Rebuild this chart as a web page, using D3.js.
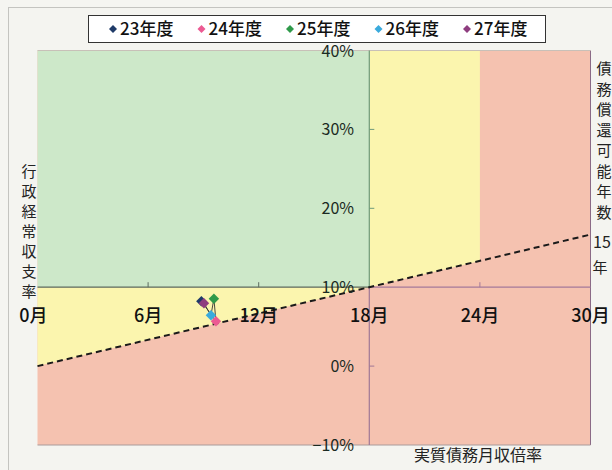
<!DOCTYPE html>
<html><head><meta charset="utf-8">
<script src="https://cdn.jsdelivr.net/npm/d3@7"></script>
<style>
html,body{margin:0;padding:0;background:#f5f5f1;}
svg{display:block;}
</style></head>
<body>
<svg id="chart" width="612" height="470"></svg>
<script>
// ---- data ----
const years = ["23年度","24年度","25年度","26年度","27年度"];
const monthRatio = [8.89, 9.68, 9.57, 9.41, 9.03];   // 実質債務月収倍率 (月)
const balanceRate = [8.22, 5.69, 8.54, 6.45, 7.97];  // 行政経常収支率 (%)
const seriesColors = ["#1f3a68","#ec5a93","#2f9a4a","#3aaadc","#8e3d7f"];
const xTickValues = [0, 6, 12, 18, 24, 30];
const xTickLabels = ["0月","6月","12月","18月","24月","30月"];
const yTickValues = [-10, 0, 10, 20, 30, 40];
const yTickLabels = ["−10%","0%","10%","20%","30%","40%"];
// reference line: 債務償還可能年数 15年 (months ratio vs rate)
const lineMonths = [0, 30];
const lineRates = [0, 16.67];
// zone boundaries
const greenZoneX = [0, 18], greenZoneY = [10, 40];
const yellowZoneA = [[0,10],[18,10],[0,0]];
const yellowZoneB = [[18,40],[18,10],[24,13.33],[24,40]];

// ---- layout ----
const svg = d3.select("#chart");
const x = d3.scaleLinear().domain([0,30]).range([37.5,590.5]);
const y = d3.scaleLinear().domain([-10,40]).range([445,50.5]);
const CJK = "'Noto Sans CJK JP', sans-serif";
const NUM = "'Liberation Sans Narrow', 'Noto Sans CJK JP', sans-serif";

// outer frame
svg.append("rect").attr("x",8.5).attr("y",7.5).attr("width",620).attr("height",480)
  .attr("fill","#f4f4f0").attr("stroke","#c4c4c0");

// pink base
svg.append("rect").attr("x",x(0)).attr("y",y(40)).attr("width",x(30)-x(0)).attr("height",y(-10)-y(40))
  .attr("fill","#f5c2b0");
// green zone
svg.append("rect").attr("x",x(greenZoneX[0])).attr("y",y(greenZoneY[1]))
  .attr("width",x(greenZoneX[1])-x(greenZoneX[0])).attr("height",y(greenZoneY[0])-y(greenZoneY[1]))
  .attr("fill","#cde8c9");
const poly = d3.line().x(d=>x(d[0])).y(d=>y(d[1]));
[yellowZoneA, yellowZoneB].forEach(z=>{
  svg.append("path").attr("d",poly(z)+"Z").attr("fill","#fbf5ae");
});

// plot border (right & bottom)
svg.append("line").attr("x1",x(30)).attr("x2",x(30)).attr("y1",y(40)).attr("y2",y(-10))
  .attr("stroke","#8a6a86").attr("stroke-width",1);
svg.append("line").attr("x1",x(0)).attr("x2",x(30)).attr("y1",y(-10)).attr("y2",y(-10))
  .attr("stroke","#a89a9a").attr("stroke-width",1);
svg.append("line").attr("x1",x(0)).attr("x2",x(30)).attr("y1",y(40)).attr("y2",y(40))
  .attr("stroke","#c8c0b8").attr("stroke-width",1);

// 10% horizontal axis line
svg.append("line").attr("x1",x(0)).attr("x2",x(18)).attr("y1",y(10)).attr("y2",y(10))
  .attr("stroke","#5d6b5e").attr("stroke-width",1.3);
svg.append("line").attr("x1",x(18)).attr("x2",x(30)).attr("y1",y(10)).attr("y2",y(10))
  .attr("stroke","#a4789a").attr("stroke-width",1.2);
// vertical axis at 18 months
svg.append("line").attr("x1",x(18)).attr("x2",x(18)).attr("y1",y(40)).attr("y2",y(10))
  .attr("stroke","#6f9a7a").attr("stroke-width",1.2);
svg.append("line").attr("x1",x(18)).attr("x2",x(18)).attr("y1",y(10)).attr("y2",y(-10))
  .attr("stroke","#a07896").attr("stroke-width",1.2);

// ticks
xTickValues.filter(v=>v>0 && v<30 && v!==18).forEach(v=>{
  svg.append("line").attr("x1",x(v)).attr("x2",x(v)).attr("y1",y(10)).attr("y2",y(10)-5)
    .attr("stroke", v<18 ? "#5d6b5e" : "#a4789a").attr("stroke-width",1);
});
yTickValues.filter(v=>v>-10 && v<40 && v!==10).forEach(v=>{
  svg.append("line").attr("x1",x(18)).attr("x2",x(18)+5).attr("y1",y(v)).attr("y2",y(v))
    .attr("stroke", v>10 ? "#6f9a7a" : "#a07896").attr("stroke-width",1);
});

// dashed reference line
svg.append("line").attr("x1",x(lineMonths[0])).attr("y1",y(lineRates[0]))
  .attr("x2",x(lineMonths[1])).attr("y2",y(lineRates[1]))
  .attr("stroke","#1a1a1a").attr("stroke-width",2).attr("stroke-dasharray","6,4");

// x tick labels
xTickValues.forEach((v,i)=>{
  svg.append("text").attr("x",x(v)+(i===0?-4:0)).attr("y",322)
    .attr("text-anchor","middle").attr("font-family",NUM).attr("font-size",18)
    .attr("font-weight",500).attr("fill","#111").text(xTickLabels[i]);
});
// y tick labels
yTickValues.forEach((v,i)=>{
  svg.append("text").attr("x",354).attr("y",y(v)+6)
    .attr("text-anchor","end").attr("font-family",NUM).attr("font-size",16)
    .attr("fill","#1a2a22").text(yTickLabels[i]);
});

// data: connecting line + diamonds
const pts = years.map((yr,i)=>({yr, mx:monthRatio[i], rt:balanceRate[i], c:seriesColors[i]}));
svg.append("path").attr("d", d3.line().x(d=>x(d.mx)).y(d=>y(d.rt))(pts))
  .attr("fill","none").attr("stroke","#333").attr("stroke-width",0.9);
const sym = d3.symbol().type(d3.symbolSquare).size(55);
svg.selectAll(".pt").data(pts).join("path").attr("class","pt")
  .attr("d",sym)
  .attr("transform",d=>`translate(${x(d.mx)},${y(d.rt)}) rotate(45)`)
  .attr("fill",d=>d.c);

// axis titles
const leftTitle = "行政経常収支率".split("");
leftTitle.forEach((ch,i)=>{
  svg.append("text").attr("x",29).attr("y",177+20*i).attr("text-anchor","middle")
    .attr("font-family",CJK).attr("font-size",15).attr("fill","#222").text(ch);
});
const rightTitle = "債務償還可能年数".split("");
rightTitle.forEach((ch,i)=>{
  svg.append("text").attr("x",604).attr("y",74+20.5*i).attr("text-anchor","middle")
    .attr("font-family",CJK).attr("font-size",15).attr("fill","#222").text(ch);
});
svg.append("text").attr("x",593).attr("y",248).attr("font-family",NUM).attr("font-size",16)
  .attr("fill","#222").text("15");
svg.append("text").attr("x",600).attr("y",273).attr("text-anchor","middle").attr("font-family",CJK)
  .attr("font-size",15).attr("fill","#222").text("年");
svg.append("text").attr("x",478).attr("y",461).attr("text-anchor","middle").attr("font-family",CJK)
  .attr("font-size",16).attr("fill","#222").text("実質債務月収倍率");

// legend
svg.append("rect").attr("x",88.5).attr("y",15.5).attr("width",457).attr("height",27)
  .attr("fill","#ffffff").attr("stroke","#333").attr("stroke-width",1);
const legSym = d3.symbol().type(d3.symbolSquare).size(32);
years.forEach((yr,i)=>{
  const cx = 113 + 88.5*i;
  svg.append("path").attr("d",legSym).attr("transform",`translate(${cx},29) rotate(45)`)
    .attr("fill",seriesColors[i]);
  svg.append("text").attr("x",cx+7).attr("y",34.5).attr("font-family",NUM).attr("font-size",17)
    .attr("font-weight",500).attr("fill","#111").text(yr);
});
</script>
</body></html>
